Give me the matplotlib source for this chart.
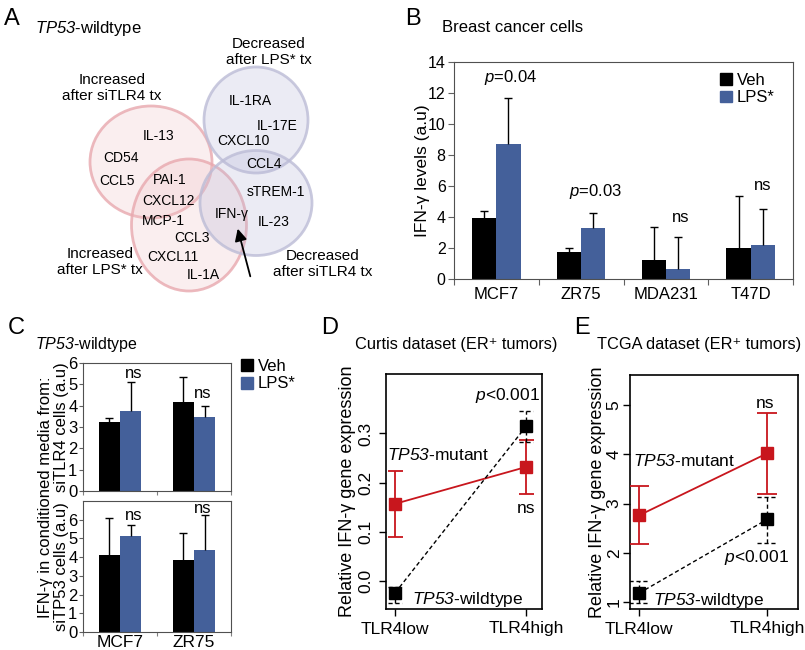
import numpy as np
import matplotlib
matplotlib.use('Agg')
import matplotlib.pyplot as plt
from matplotlib.patches import Ellipse, Patch

plt.rcParams['font.family'] = ['Liberation Sans', 'DejaVu Sans']
plt.rcParams['mathtext.fontset'] = 'custom'
plt.rcParams['mathtext.rm'] = 'Liberation Sans'
plt.rcParams['mathtext.it'] = 'Liberation Sans:italic'
# sf slot used for italic gene names (digits stay italic there)
plt.rcParams['mathtext.sf'] = 'Liberation Sans:italic'

# ---- data ----
# A: Venn sets and cytokines
venn_sets = ['Increased\nafter siTLR4 tx', 'Increased\nafter LPS* tx',
             'Decreased\nafter LPS* tx', 'Decreased\nafter siTLR4 tx']
venn_genes = ['IL-1RA', 'IL-17E', 'CXCL10', 'CCL4', 'IL-13', 'CD54', 'CCL5', 'PAI-1',
              'sTREM-1', 'CXCL12', 'IFN-γ', 'IL-23', 'MCP-1', 'CCL3', 'CXCL11', 'IL-1A']

# B: breast cancer cells
cells_b = ['MCF7', 'ZR75', 'MDA231', 'T47D']
veh_b = [3.96, 1.73, 1.2, 1.97]
veh_b_err = [0.45, 0.24, 2.18, 3.38]
lps_b = [8.74, 3.32, 0.64, 2.2]
lps_b_err = [2.93, 0.92, 2.1, 2.32]
labels_b = ['$p$=0.04', '$p$=0.03', 'ns', 'ns']

# C: conditioned media
cells_c = ['MCF7', 'ZR75']
veh_tlr4 = [3.25, 4.19]
veh_tlr4_err = [0.19, 1.15]
lps_tlr4 = [3.77, 3.49]
lps_tlr4_err = [1.36, 0.51]
veh_tp53 = [4.09, 3.86]
veh_tp53_err = [2.01, 1.44]
lps_tp53 = [5.12, 4.36]
lps_tp53_err = [0.61, 1.87]

# D/E: tumour datasets
groups = ['TLR4low', 'TLR4high']
curtis_wt = [-0.024, 0.315]
curtis_wt_lo = [-0.045, 0.283]
curtis_wt_hi = [-0.012, 0.345]
curtis_mut = [0.157, 0.232]
curtis_mut_lo = [0.09, 0.177]
curtis_mut_hi = [0.224, 0.287]
tcga_wt = [1.18, 2.68]
tcga_wt_lo = [0.98, 2.19]
tcga_wt_hi = [1.42, 3.13]
tcga_mut = [2.76, 4.02]
tcga_mut_lo = [2.17, 3.19]
tcga_mut_hi = [3.35, 4.84]

VEH = 'black'
LPS = '#44609A'
RED = '#C8161D'
DASH = (0, (3, 2))
WT = r'$\mathsf{TP53}$-wildtype'
MUT = r'$\mathsf{TP53}$-mutant'

W, H = 805, 650
fig = plt.figure(figsize=(W / 100, H / 100), dpi=100)


def px_axes(l, t, r, b):
    return fig.add_axes([l / W, 1 - b / H, (r - l) / W, (b - t) / H])


def fig_text(x, y, s, **kw):
    fig.text(x / W, 1 - y / H, s, **kw)


# panel letters
for letter, (lx, ly) in zip('ABCDE', [(12, 19), (413, 19), (16, 328), (330, 328), (582, 328)]):
    fig_text(lx, ly, letter, fontsize=17, ha='center', va='center')

# ---- A: Venn diagram ----
axA = px_axes(0, 0, 400, 330)
axA.set_xlim(0, 400)
axA.set_ylim(330, 0)
axA.axis('off')
fig_text(35, 28, WT, fontsize=12, va='center')

ellipses = [((151, 162), 122, 112, '#F0C4C8', '#E8A8AE'),
            ((189, 225), 115, 132, '#F0C4C8', '#E8A8AE'),
            ((256, 120), 104, 106, '#B8B8D8', '#BCBCD6'),
            ((256, 203), 112, 105, '#B8B8D8', '#BCBCD6')]
for (c, ew, eh, fc, ec) in ellipses:
    axA.add_patch(Ellipse(c, ew, eh, facecolor=fc, alpha=0.28, edgecolor='none'))
    axA.add_patch(Ellipse(c, ew, eh, facecolor='none', edgecolor=ec, lw=2, alpha=0.8))

set_xy = [(112, 88), (100, 262), (269, 52), (323, 264)]
for name, (tx, ty) in zip(venn_sets, set_xy):
    axA.text(tx, ty, name, ha='center', va='center', fontsize=11, linespacing=1.25)

gene_xy = [(250, 101), (277, 126), (243, 141), (264, 164), (159, 136), (121, 158),
           (117, 181), (170, 180), (276, 192), (168, 201), (232, 214), (274, 222),
           (163, 221), (192, 238), (173, 257), (203, 275)]
for g, (gx, gy) in zip(venn_genes, gene_xy):
    axA.text(gx, gy, g, ha='center', va='center', fontsize=10)
axA.annotate('', xy=(237, 226), xytext=(251, 279),
             arrowprops=dict(arrowstyle='-|>', color='black', lw=1.3, mutation_scale=18))

# ---- B: bar chart ----
axB = px_axes(454, 62, 793, 279)
x = np.arange(len(cells_b))
w = 0.285
axB.bar(x - w / 2, veh_b, w, color=VEH)
axB.bar(x + w / 2, lps_b, w, color=LPS)
for xs, v, e in ((x - w / 2, veh_b, veh_b_err), (x + w / 2, lps_b, lps_b_err)):
    top = np.add(v, e)
    axB.vlines(xs, v, top, color='black', lw=1)
    axB.hlines(top, xs - 0.047, xs + 0.047, color='black', lw=1)
axB.set_xlim(-0.5, len(cells_b) - 0.5)
axB.set_ylim(0, 14)
axB.set_yticks(np.arange(0, 15, 2))
axB.set_xticks(np.arange(len(cells_b) + 1) - 0.5)
axB.set_xticklabels([])
axB.set_xticks(x, minor=True)
axB.set_xticklabels(cells_b, minor=True, fontsize=12)
axB.tick_params(axis='x', which='minor', length=0, pad=6)
axB.tick_params(axis='x', which='major', length=4, color='#606060')
axB.tick_params(axis='y', labelsize=11.5, length=4, color='#606060', pad=2)
for s in axB.spines.values():
    s.set_color('#505050')
axB.set_ylabel('IFN-γ levels (a.u)', fontsize=12.5)
axB.yaxis.set_label_coords(-0.072, 0.5)
for (tx, ty), lab in zip([(0.17, 13.0), (1.17, 5.67), (2.18, 4.0), (3.14, 6.06)], labels_b):
    axB.text(tx, ty, lab, ha='center', va='center', fontsize=12)
axB.legend([Patch(color=VEH), Patch(color=LPS)], ['Veh', 'LPS*'], loc='upper left',
           bbox_to_anchor=(0.785, 0.95), frameon=False, fontsize=12, handlelength=0.7,
           handleheight=0.7, handletextpad=0.3, labelspacing=0.15, borderpad=0, borderaxespad=0)
fig_text(442, 28, 'Breast cancer cells', fontsize=12, va='center')

# ---- C: two small bar charts ----
fig_text(35, 344, WT, fontsize=11.5, va='center')
axC1 = px_axes(83, 363, 231, 491)
axC2 = px_axes(83, 501, 231, 632)
xc = np.arange(len(cells_c))
wc = 0.29
panels_c = [(axC1, veh_tlr4, veh_tlr4_err, lps_tlr4, lps_tlr4_err, 6, 'siTLR4 cells (a.u)',
             [(0.18, 5.5), (1.12, 4.58)]),
            (axC2, veh_tp53, veh_tp53_err, lps_tp53, lps_tp53_err, 7, 'siTP53 cells (a.u)',
             [(0.18, 6.23), (1.12, 6.58)])]
for ax, v1, e1, v2, e2, ymax, ylab, ns_xy in panels_c:
    ax.bar(xc - wc / 2, v1, wc, color=VEH)
    ax.bar(xc + wc / 2, v2, wc, color=LPS)
    for xs, v, e in ((xc - wc / 2, v1, e1), (xc + wc / 2, v2, e2)):
        top = np.add(v, e)
        ax.vlines(xs, v, top, color='black', lw=1)
        ax.hlines(top, xs - 0.055, xs + 0.055, color='black', lw=1)
    ax.set_xlim(-0.5, 1.5)
    ax.set_ylim(0, ymax)
    ax.set_yticks(np.arange(0, 7))
    ax.set_xticks([-0.5, 0.5, 1.5])
    ax.set_xticklabels([])
    ax.tick_params(axis='x', which='major', length=3, color='#808080')
    ax.tick_params(axis='y', labelsize=12, length=3, color='#606060', pad=1)
    for s in ax.spines.values():
        s.set_color('#505050')
    ax.set_ylabel(ylab, fontsize=12)
    ax.yaxis.set_label_coords(-0.095, 0.5)
    for tx, ty in ns_xy:
        ax.text(tx, ty, 'ns', ha='center', va='center', fontsize=12)
axC2.set_xticks(xc, minor=True)
axC2.set_xticklabels(cells_c, minor=True, fontsize=12.5)
axC2.tick_params(axis='x', which='minor', length=0, pad=2)
fig_text(45.5, 497, 'IFN-γ in conditioned media from:', rotation=90, ha='center', va='center',
         fontsize=12)
fig.legend([Patch(color=VEH), Patch(color=LPS)], ['Veh', 'LPS*'], loc='upper left',
           bbox_to_anchor=(241 / W, 1 - 359 / H), frameon=False, fontsize=12, handlelength=0.7,
           handleheight=0.7, handletextpad=0.3, labelspacing=0.15, borderpad=0, borderaxespad=0)


# ---- D / E: line plots ----
def line_panel(ax, wt, wt_lo, wt_hi, mut, mut_lo, mut_hi, cap_pt, cap_half):
    xg = np.arange(len(groups))
    ax.errorbar(xg, mut, yerr=[np.subtract(mut, mut_lo), np.subtract(mut_hi, mut)],
                color=RED, marker='s', ms=8, lw=1.3, capsize=cap_pt, capthick=1.3,
                elinewidth=1.3, zorder=3)
    ax.vlines(xg, wt_lo, wt_hi, colors='black', linestyles=DASH, lw=1, zorder=4)
    ax.hlines(wt_lo, xg - cap_half, xg + cap_half, colors='black', linestyles=DASH, lw=1, zorder=4)
    ax.hlines(wt_hi, xg - cap_half, xg + cap_half, colors='black', linestyles=DASH, lw=1, zorder=4)
    ax.plot(xg, wt, color='black', ls=DASH, lw=1, marker='s', ms=8, zorder=5)
    ax.set_xticks(xg)
    ax.set_xticklabels(groups, fontsize=12.5)
    ax.tick_params(axis='both', length=5, width=1)
    ax.tick_params(axis='x', pad=4)
    ax.tick_params(axis='y', labelrotation=90, labelsize=12.5)
    for t in ax.get_yticklabels():
        t.set_va('center')
    for s in ax.spines.values():
        s.set_linewidth(1.2)
    ax.set_ylabel('Relative IFN-γ gene expression', fontsize=13)


axD = px_axes(386, 374, 542, 609)
axD.set_yticks([0.0, 0.1, 0.2, 0.3])
axD.set_yticklabels(['0.0', '0.1', '0.2', '0.3'])
line_panel(axD, curtis_wt, curtis_wt_lo, curtis_wt_hi, curtis_mut, curtis_mut_lo, curtis_mut_hi,
           5.4, 0.055)
axD.set_xlim(-0.07, 1.12)
axD.set_ylim(-0.057, 0.421)
axD.tick_params(axis='y', pad=4)
axD.yaxis.set_label_coords(-0.19, 0.5)
axD.text(0.855, 0.378, '$p$<0.001', ha='center', va='center', fontsize=12.5)
axD.text(-0.065, 0.256, MUT, ha='left', va='center', fontsize=12.5)
axD.text(1.0, 0.148, 'ns', ha='center', va='center', fontsize=12.5)
axD.text(0.13, -0.037, WT, ha='left', va='center', fontsize=12.5)
fig_text(355, 344, 'Curtis dataset (ER⁺ tumors)', fontsize=11.8, va='center')

axE = px_axes(630, 375, 798, 609)
axE.set_yticks([1, 2, 3, 4, 5])
line_panel(axE, tcga_wt, tcga_wt_lo, tcga_wt_hi, tcga_mut, tcga_mut_lo, tcga_mut_hi,
           7.2, 0.077)
axE.set_xlim(-0.07, 1.24)
axE.set_ylim(0.86, 5.61)
axE.tick_params(axis='y', pad=1)
axE.yaxis.set_label_coords(-0.14, 0.5)
axE.text(0.985, 5.03, 'ns', ha='center', va='center', fontsize=12.5)
axE.text(-0.05, 3.86, MUT, ha='left', va='center', fontsize=12.5)
axE.text(0.915, 1.9, '$p$<0.001', ha='center', va='center', fontsize=12.5)
axE.text(0.108, 1.04, WT, ha='left', va='center', fontsize=12.5)
fig_text(597, 344, 'TCGA dataset (ER⁺ tumors)', fontsize=11.8, va='center')

fig.savefig('out.png', dpi=100)
